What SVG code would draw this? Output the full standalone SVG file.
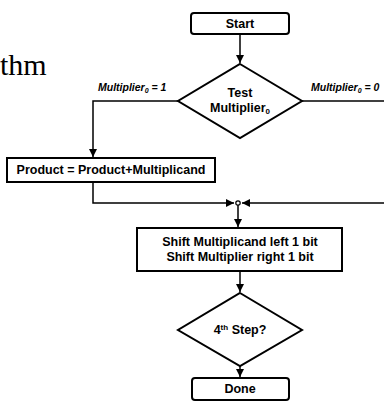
<svg xmlns="http://www.w3.org/2000/svg" width="384" height="405" viewBox="0 0 384 405">
<defs>
<marker id="ah" viewBox="0 0 10 10" refX="10" refY="5" markerWidth="8" markerHeight="8" markerUnits="userSpaceOnUse" orient="auto">
<path d="M0,0 L10,5 L0,10 Z" fill="#000"/>
</marker>
</defs>
<style>
.box{fill:#fff;stroke:#000;stroke-width:2}
.ln{fill:none;stroke:#000;stroke-width:1.5}
.t{font-family:"Liberation Sans",Arial,sans-serif;font-weight:bold;font-size:12.5px;fill:#000;text-anchor:middle}
.lbl{font-family:"Liberation Sans",Arial,sans-serif;font-weight:bold;font-style:italic;font-size:10.5px;fill:#000}
.sub{font-size:7px}
</style>
<rect width="384" height="405" fill="#fff"/>
<text x="0" y="75" font-family="Liberation Serif,'Times New Roman',serif" font-size="30" fill="#000">thm</text>
<g id="connectors">
<line class="ln" x1="240" y1="35" x2="240" y2="63" marker-end="url(#ah)"/>
<polyline class="ln" points="178,101 93,101 93,157" marker-end="url(#ah)"/>
<line class="ln" x1="302" y1="101" x2="384" y2="101"/>
<polyline class="ln" points="93,182 93,203 234,203" marker-end="url(#ah)"/>
<line class="ln" x1="384" y1="203" x2="242" y2="203" marker-end="url(#ah)"/>
<line class="ln" x1="238" y1="205" x2="238" y2="227" marker-end="url(#ah)"/>
<circle cx="238" cy="203" r="2.2" fill="#fff" stroke="#000" stroke-width="1.2"/>
<line class="ln" x1="240" y1="271" x2="240" y2="292" marker-end="url(#ah)"/>
<line class="ln" x1="240" y1="366" x2="240" y2="377" marker-end="url(#ah)"/>
<text class="lbl" x="98" y="91">Multiplier<tspan class="sub" dy="2">0</tspan><tspan dy="-2"> = 1</tspan></text>
<text class="lbl" x="311" y="91">Multiplier<tspan class="sub" dy="2">0</tspan><tspan dy="-2"> = 0</tspan></text>
</g>
<g id="start">
<rect class="box" x="191" y="13" width="98" height="21" rx="3"/>
<text class="t" x="240" y="28">Start</text>
</g>
<g id="test">
<polygon class="box" points="240,64 302,101 240,138 178,101"/>
<text class="t" x="240" y="97">Test</text>
<text class="t" x="240" y="112">Multiplier<tspan font-size="8" dy="2">0</tspan></text>
</g>
<g id="product">
<rect class="box" x="7" y="158" width="208" height="24"/>
<text class="t" x="111" y="174">Product = Product+Multiplicand</text>
</g>
<g id="shift">
<rect class="box" x="137" y="228" width="205" height="43"/>
<text class="t" x="240" y="246">Shift Multiplicand left 1 bit</text>
<text class="t" x="240" y="261">Shift Multiplier right 1 bit</text>
</g>
<g id="step">
<polygon class="box" points="240,293 302,330 240,366 178,330"/>
<text class="t" x="240" y="334">4<tspan font-size="8" dy="-4">th</tspan><tspan dy="4"> Step?</tspan></text>
</g>
<g id="done">
<rect class="box" x="192" y="378" width="97" height="22" rx="3"/>
<text class="t" x="240" y="393">Done</text>
</g>
</svg>
